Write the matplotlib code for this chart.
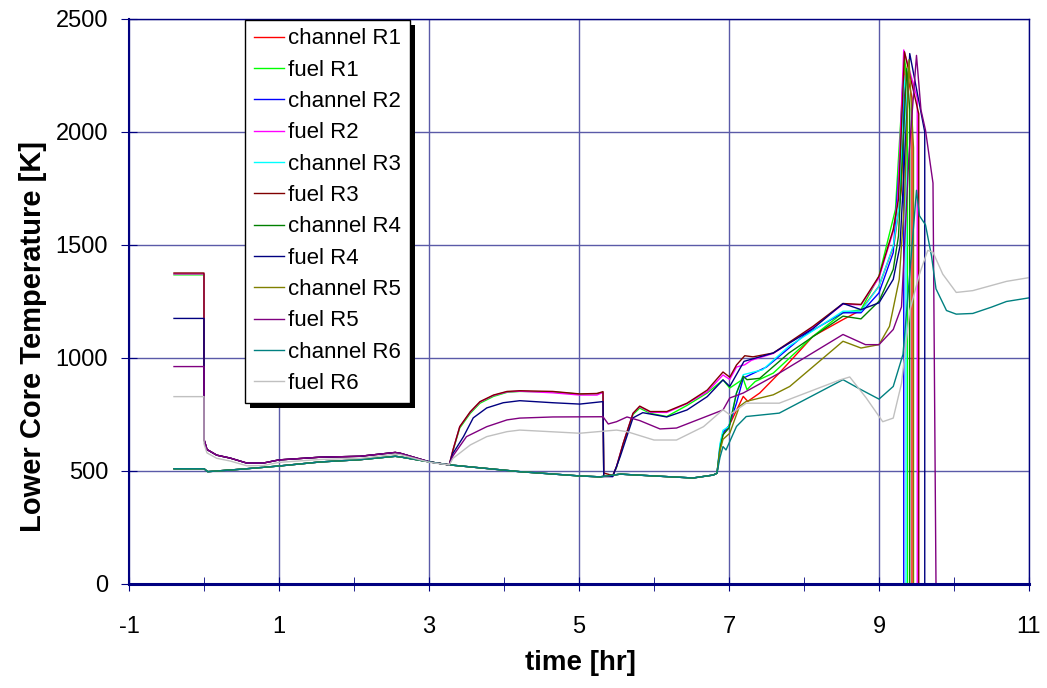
import matplotlib
matplotlib.use("Agg")
import matplotlib.pyplot as plt
from matplotlib.patches import Rectangle

plt.rcParams['font.family'] = ['Liberation Sans', 'DejaVu Sans']
plt.rcParams['axes.unicode_minus'] = False

# Series order and colours as in the legend
NAMES = ["channel R1", "fuel R1", "channel R2", "fuel R2", "channel R3", "fuel R3",
         "channel R4", "fuel R4", "channel R5", "fuel R5", "channel R6", "fuel R6"]
COLORS = ["#ff0000", "#00ff00", "#0000ff", "#ff00ff", "#00ffff", "#800000",
          "#008000", "#000080", "#808000", "#800080", "#008080", "#c0c0c0"]

# Common channel history up to the core uncovery at ~6.85 hr
CH_T = [-0.4, 0.0, 0.05, 0.5, 1.0, 1.55, 2.08, 2.55, 2.62, 3.01, 3.27, 4.21, 5.01, 5.28, 5.55, 6.0, 6.52, 6.79, 6.84]
CH_K = [510, 510, 497, 508, 522, 540, 550, 565, 562, 540, 527, 497, 478, 474, 486, 478, 469, 482, 490]

# Common fuel history after scram (t = 0) up to ~3.3 hr
FU_T = [0.0, 0.04, 0.17, 0.35, 0.57, 0.79, 1.0, 1.55, 2.08, 2.55, 2.62, 3.01, 3.27]
FU_K = [640, 595, 570, 557, 535, 535, 549, 561, 565, 582, 578, 540, 527]
FU6_K = [620, 580, 556, 544, 523, 524, 538, 551, 556, 574, 572, 538, 527]

# Initial (pre-scram) fuel temperatures
FUEL_INIT = [1368, 1372, 1376, 1175, 962, 829]

# channel late histories
t_ch1 = [6.88, 6.92, 7.0, 7.19, 7.25, 7.41, 7.67, 8.12, 8.52, 8.76, 9.0, 9.2, 9.3, 9.35, 9.44, 9.44]
k_ch1 = [600, 660, 700, 830, 808, 845, 933, 1096, 1170, 1212, 1318, 1500, 1750, 2300, 2150, 0]
t_ch2 = [6.88, 6.92, 7.0, 7.1, 7.19, 7.5, 8.0, 8.52, 8.76, 9.0, 9.19, 9.28, 9.32, 9.33, 9.33]
k_ch2 = [610, 670, 700, 800, 911, 960, 1100, 1200, 1200, 1288, 1466, 1900, 2250, 2200, 0]
t_ch3 = [6.88, 6.92, 7.0, 7.1, 7.19, 7.45, 7.8, 8.52, 8.76, 9.0, 9.19, 9.28, 9.33, 9.36, 9.36]
k_ch3 = [620, 680, 697, 845, 926, 948, 1052, 1207, 1207, 1318, 1495, 1700, 2250, 2150, 0]
t_ch4 = [6.88, 6.92, 7.0, 7.1, 7.19, 7.24, 7.41, 7.8, 8.52, 8.76, 9.0, 9.19, 9.26, 9.37, 9.41, 9.41]
k_ch4 = [600, 660, 690, 845, 919, 904, 910, 1022, 1185, 1173, 1251, 1392, 1540, 2280, 2100, 0]
t_ch5 = [6.88, 6.92, 7.01, 7.14, 7.23, 7.59, 7.81, 8.52, 8.76, 9.0, 9.14, 9.27, 9.34, 9.40, 9.46, 9.46]
k_ch5 = [590, 640, 667, 786, 808, 837, 874, 1074, 1044, 1059, 1140, 1348, 1694, 2320, 1930, 0]
t_ch6 = [6.88, 6.92, 6.96, 7.1, 7.23, 7.67, 8.52, 8.76, 9.0, 9.19, 9.32, 9.41, 9.5, 9.54, 9.62,
         9.7, 9.76, 9.9, 10.03, 10.25, 10.5, 10.7, 11.0]
k_ch6 = [560, 608, 593, 697, 741, 756, 904, 860, 818, 874, 1016, 1371, 1742, 1629, 1589,
         1452, 1306, 1210, 1194, 1197, 1225, 1250, 1266]

# fuel late histories (from ~3.3 hr)
t_fu1 = [3.32, 3.41, 3.55, 3.68, 3.86, 4.04, 4.21, 4.65, 5.01, 5.24, 5.32, 5.33, 5.45, 5.5, 5.59, 5.72,
         5.81, 5.95, 6.17, 6.44, 6.71, 6.92, 7.01, 7.19, 7.24, 7.35, 7.59, 8.12, 8.52, 8.76, 9.0, 9.22,
         9.34, 9.38, 9.38]
k_fu1 = [590, 690, 755, 800, 830, 848, 852, 850, 840, 842, 848, 480, 478, 515, 620, 750,
         778, 755, 741, 790, 845, 903, 867, 907, 860, 896, 933, 1096, 1200, 1214, 1362, 1658,
         2330, 2200, 0]
t_fu2 = [3.32, 3.41, 3.55, 3.68, 3.86, 4.04, 4.21, 4.65, 5.01, 5.24, 5.32, 5.33, 5.45, 5.5, 5.59, 5.72,
         5.81, 5.95, 6.17, 6.44, 6.71, 6.92, 7.01, 7.1, 7.21, 7.3, 7.59, 8.12, 8.52, 8.76, 9.0, 9.19,
         9.25, 9.33, 9.51, 9.51]
k_fu2 = [593, 696, 760, 805, 834, 850, 853, 846, 836, 836, 848, 478, 476, 519, 623, 755,
         785, 760, 759, 798, 850, 925, 905, 960, 970, 990, 1020, 1135, 1238, 1235, 1355, 1560,
         1700, 2363, 2150, 0]
t_fu3 = [3.32, 3.41, 3.55, 3.68, 3.86, 4.04, 4.21, 4.65, 5.01, 5.24, 5.32, 5.33, 5.45, 5.5, 5.59, 5.72,
         5.81, 5.95, 6.17, 6.44, 6.71, 6.92, 7.01, 7.1, 7.21, 7.32, 7.59, 8.12, 8.52, 8.76, 9.0, 9.19,
         9.26, 9.34, 9.53, 9.53]
k_fu3 = [593, 696, 762, 807, 836, 852, 855, 852, 841, 843, 851, 491, 480, 519, 623, 755,
         787, 763, 763, 800, 858, 938, 915, 969, 1010, 1005, 1022, 1140, 1241, 1237, 1362, 1569,
         1703, 2355, 2080, 0]
t_fu4 = [3.32, 3.46, 3.59, 3.77, 3.99, 4.21, 4.65, 5.01, 5.32, 5.33, 5.45, 5.55, 5.72, 5.85, 6.17,
         6.44, 6.71, 6.92, 7.01, 7.2, 7.59, 8.12, 8.52, 8.76, 9.0, 9.19, 9.28, 9.36, 9.41, 9.61, 9.61]
k_fu4 = [578, 652, 735, 779, 802, 811, 802, 796, 807, 475, 475, 564, 735, 758, 739,
         770, 829, 903, 874, 985, 1022, 1130, 1241, 1214, 1244, 1348, 1495, 2000, 2347, 2000, 0]
t_fu5 = [3.32, 3.5, 3.77, 4.04, 4.21, 4.65, 5.32, 5.39, 5.5, 5.64, 5.81, 6.08, 6.3, 6.61, 6.92, 7.01,
         7.19, 7.67, 8.52, 8.82, 9.0, 9.19, 9.3, 9.4, 9.5, 9.56, 9.62, 9.72, 9.76]
k_fu5 = [567, 652, 696, 726, 734, 739, 740, 708, 718, 739, 723, 686, 690, 730, 770, 823,
         845, 933, 1104, 1059, 1059, 1126, 1226, 1900, 2339, 2097, 2008, 1774, 0]
t_fu6 = [3.32, 3.55, 3.77, 4.04, 4.21, 5.01, 5.5, 5.64, 6.0, 6.3, 6.66, 6.92, 7.01, 7.23, 7.67, 8.48, 8.61,
         8.83, 9.05, 9.19, 9.3, 9.41, 9.54, 9.65, 9.72, 9.85, 10.03, 10.25, 10.7, 10.99]
k_fu6 = [556, 615, 652, 674, 681, 667, 681, 674, 637, 637, 696, 771, 749, 800, 800, 903, 916,
         823, 718, 734, 887, 1210, 1371, 1476, 1468, 1371, 1290, 1298, 1339, 1355]

CH_LATE = [(t_ch1, k_ch1), (t_ch2, k_ch2), (t_ch3, k_ch3), (t_ch4, k_ch4), (t_ch5, k_ch5), (t_ch6, k_ch6)]
FU_LATE = [(t_fu1, k_fu1), (t_fu2, k_fu2), (t_fu3, k_fu3), (t_fu4, k_fu4), (t_fu5, k_fu5), (t_fu6, k_fu6)]

X_LABELED = [-1, 1, 3, 5, 7, 9, 11]
X_MINOR = [0, 2, 4, 6, 8, 10]
Y_TICKS = [0, 500, 1000, 1500, 2000, 2500]

NAVY = "#000080"
GRID = "#5a5aa8"

fig = plt.figure(figsize=(10.47, 6.88), dpi=100)
ax = fig.add_axes([0.1232, 0.1512, 0.8596, 0.8212])

for i in range(6):
    # channel
    lt, lk = CH_LATE[i]
    ax.plot(CH_T + lt, CH_K + lk, color=COLORS[2 * i], lw=1.0, label=NAMES[2 * i])
    # fuel
    ft, fk = FU_LATE[i]
    early = FU6_K if i == 5 else FU_K
    ax.plot([-0.4, 0.0] + FU_T + ft, [FUEL_INIT[i], FUEL_INIT[i]] + early + fk,
            color=COLORS[2 * i + 1], lw=1.0, label=NAMES[2 * i + 1])

ax.set_xlim(-1, 11)
ax.set_ylim(0, 2500)
ax.set_xticks(X_LABELED)
ax.set_xticks(X_MINOR, minor=True)
ax.set_yticks(Y_TICKS)
ax.grid(True, which='major', color=GRID, lw=1.0)
ax.set_axisbelow(True)

ax.tick_params(axis='both', which='both', direction='inout', color=NAVY, labelsize=17)
ax.tick_params(axis='y', length=12, pad=9)
ax.tick_params(axis='x', which='major', length=10, pad=18)
ax.tick_params(axis='x', which='minor', length=10)

for side in ['top', 'right']:
    ax.spines[side].set_color(NAVY)
    ax.spines[side].set_linewidth(1.0)
ax.spines['left'].set_color(NAVY)
ax.spines['left'].set_linewidth(1.5)
ax.spines['bottom'].set_color(NAVY)
ax.spines['bottom'].set_linewidth(2.2)

fig.text(580 / 1047, 1 - 663 / 688, "time [hr]", fontsize=20, fontweight='bold',
         ha='center', va='center')
fig.text(33 / 1047, 1 - 336 / 688, "Lower Core Temperature [K]", fontsize=21, fontweight='bold',
         ha='center', va='center', rotation=90)

leg = ax.legend(loc='upper left', bbox_to_anchor=(0.129, 0.999), fontsize=16,
                frameon=True, fancybox=False, shadow=False,
                handlelength=1.35, handletextpad=0.2, labelspacing=0.465, borderpad=0.4,
                borderaxespad=0.0)
leg.get_frame().set_edgecolor('black')
leg.get_frame().set_linewidth(1.0)
leg.get_frame().set_alpha(1.0)
leg.set_zorder(10)

# black drop shadow behind the legend box
fig.canvas.draw()
bb = leg.get_window_extent().transformed(fig.transFigure.inverted())
dx, dy = 5 / 1047, 5 / 688
ax.add_patch(Rectangle((bb.x0 + dx, bb.y0 - dy), bb.width, bb.height, transform=fig.transFigure,
                       facecolor='black', edgecolor='none', zorder=9, clip_on=False))

fig.savefig("out.png", dpi=100)
